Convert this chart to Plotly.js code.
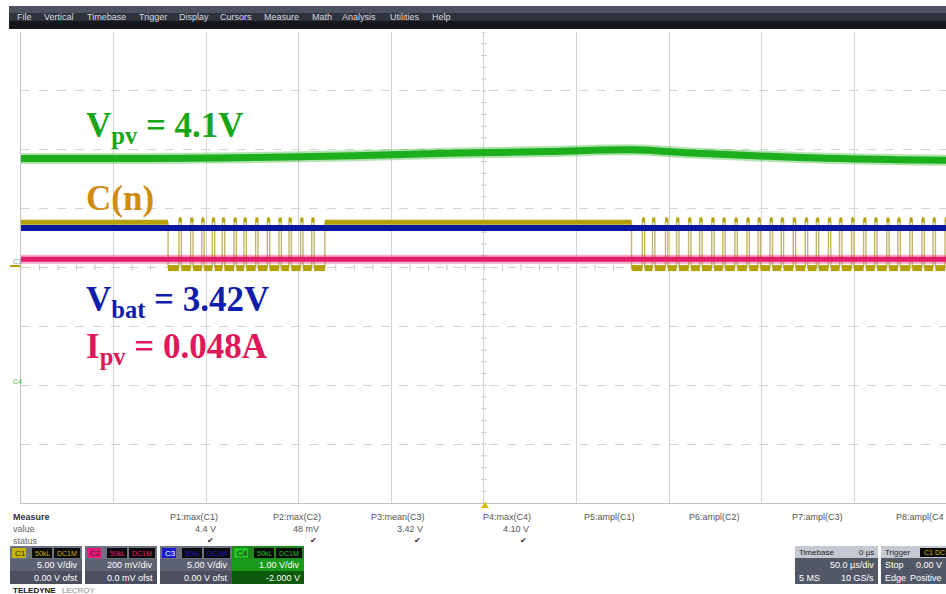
<!DOCTYPE html>
<html><head><meta charset="utf-8">
<script src="https://cdn.plot.ly/plotly-3.0.1.min.js"></script>
<style>html,body{margin:0;padding:0;background:#fff;}#chart{width:946px;height:594px;}</style>
</head><body><div id="chart"></div>
<script>
// ===== waveform data (time in µs, level in screen divisions from centre) =====
const vpvTime   = [-250, -180, -125, -70, -20, 35, 80, 115, 170, 249.5];
const vpvLevel  = [1.85, 1.85, 1.87, 1.90, 1.94, 1.97, 2.00, 1.94, 1.87, 1.82];
const vbatTime  = [-250, 249.5];
const vbatLevel = [0.67, 0.67];
const ipvTime   = [-250, 249.5];
const ipvLevel  = [0.14, 0.14];
const cnLow  = -0.01;
const cnHigh = 0.77;
const cnBurstStart = [-170.6, 79.7];
const cnBurstEnd   = [-85.9, 249.5];
const cnPulses1 = [-164.7, -158.4, -152.4, -146.7, -141.3, -135, -129.6, -123.3, -117, -110.7, -105.3, -99, -93];
const cnPulses2 = [85.5, 91, 98, 104, 110.5, 116.5, 123, 129, 135.5, 142, 148, 154.5, 160.5, 167, 173.5, 179.5, 186, 192, 198.5, 205, 211, 217.5, 223.5, 230, 236.5, 242.5, 249];
const cnPulseWidth = 1.3;

// ===== labels =====
const labelVpv  = 'V<sub>pv</sub> = 4.1V';
const labelCn   = 'C(n)';
const labelVbat = 'V<sub>bat</sub> = 3.42V';
const labelIpv  = 'I<sub>pv</sub> = 0.048A';
const menuItems = ['File','Vertical','Timebase','Trigger','Display','Cursors','Measure','Math','Analysis','Utilities','Help'];
const measureNames  = ['P1:max(C1)','P2:max(C2)','P3:mean(C3)','P4:max(C4)','P5:ampl(C1)','P6:ampl(C2)','P7:ampl(C3)','P8:ampl(C4'];
const measureValues = ['4.4 V','48 mV','3.42 V','4.10 V','','','',''];
const measureStatus = ['✔','✔','✔','✔','','','',''];
const chanNames  = ['C1','C2','C3','C4'];
const chanScale  = ['5.00 V/div','200 mV/div','5.00 V/div','1.00 V/div'];
const chanOffset = ['0.00 V ofst','0.0 mV ofst','0.00 V ofst','-2.000 V'];
const timebaseRows = [['Timebase','0 µs'],['','50.0 µs/div'],['5 MS','10 GS/s']];
const triggerRows  = [['Trigger','C1 DC'],['Stop','0.00 V'],['Edge','Positive']];

// ===== layout helpers (pixel -> paper) =====
const L = 21, R = 946, T = 32, B = 503;
const px = x => (x - L) / (R - L);
const py = y => (B - y) / (B - T);

// ===== build C(n) digital waveform pieces =====
const bursts = [cnPulses1, cnPulses2];
const hiX = [], hiY = [], loX = [], loY = [], edX = [], edY = [];
hiX.push(-250, cnBurstStart[0], null, cnBurstEnd[0], cnBurstStart[1], null);
hiY.push(cnHigh, cnHigh, null, cnHigh, cnHigh, null);
bursts.forEach((pulses, b) => {
  let t0 = cnBurstStart[b];
  edX.push(t0, t0, null); edY.push(cnHigh, cnLow, null);
  pulses.forEach(p => {
    loX.push(t0, p, null); loY.push(cnLow, cnLow, null);
    hiX.push(p, p + cnPulseWidth, null); hiY.push(cnHigh + 0.04, cnHigh + 0.04, null);
    edX.push(p, p, null, p + cnPulseWidth, p + cnPulseWidth, null);
    edY.push(cnLow, cnHigh + 0.06, null, cnHigh + 0.06, cnLow, null);
    t0 = p + cnPulseWidth;
  });
  const te = cnBurstEnd[b];
  if (te > t0) { loX.push(t0, te, null); loY.push(cnLow, cnLow, null); }
  if (b === 0) { edX.push(te, te, null); edY.push(cnLow, cnHigh, null); }
});

const C_GREEN = '#1cae1c', C_YEL = '#b4a000', C_BLUE = '#0a18a0', C_PINK = '#e41e6c';

const traces = [
  {x: edX, y: edY, mode: 'lines', line: {color: '#c2b66a', width: 1.4}, hoverinfo: 'skip'},
  {x: loX, y: loY, mode: 'lines', line: {color: C_YEL, width: 6}, hoverinfo: 'skip'},
  {x: hiX, y: hiY, mode: 'lines', line: {color: C_YEL, width: 5}, hoverinfo: 'skip'},
  {x: vbatTime, y: vbatLevel, mode: 'lines', line: {color: C_BLUE, width: 6}, hoverinfo: 'skip'},
  {x: ipvTime, y: ipvLevel, mode: 'lines', line: {color: C_PINK, width: 9}, opacity: 0.35, hoverinfo: 'skip'},
  {x: ipvTime, y: ipvLevel, mode: 'lines', line: {color: C_PINK, width: 5}, hoverinfo: 'skip'},
  {x: vpvTime, y: vpvLevel, mode: 'lines', line: {color: C_GREEN, width: 11, shape: 'spline'}, opacity: 0.35, hoverinfo: 'skip'},
  {x: vpvTime, y: vpvLevel, mode: 'lines', line: {color: C_GREEN, width: 7, shape: 'spline'}, hoverinfo: 'skip'}
];

const shapes = [];
const annotations = [];
const rect = (x0, y0, x1, y1, fill) => shapes.push({type: 'rect', xref: 'paper', yref: 'paper', x0: px(x0), x1: px(x1), y0: py(y1), y1: py(y0), fillcolor: fill, line: {width: 0}, layer: 'above'});
const txt = (s, x, y, anchor, size, color, weight) => annotations.push({text: s, xref: 'paper', yref: 'paper', x: px(x), y: py(y), xanchor: anchor, yanchor: 'middle', showarrow: false, font: {family: 'Liberation Sans, Arial, sans-serif', size: size, color: color, weight: weight || 'normal'}});
const big = (s, x, y, color) => annotations.push({text: s, xref: 'paper', yref: 'paper', x: px(x), y: py(y), xanchor: 'left', yanchor: 'middle', showarrow: false, font: {family: 'Liberation Serif, Times New Roman, serif', size: 35, color: color, weight: 'bold'}});

// centre-line minor ticks (graticule)
for (let k = -20; k <= 20; k++) {
  const v = k * 0.2;
  shapes.push({type: 'line', xref: 'x', yref: 'y', x0: -1.5, x1: 1.5, y0: v, y1: v, line: {color: '#c4c4c4', width: 1}, layer: 'below'});
}
for (let k = -25; k <= 25; k++) {
  const t = k * 10;
  shapes.push({type: 'line', xref: 'x', yref: 'y', x0: t, x1: t, y0: -0.05, y1: 0.05, line: {color: '#c4c4c4', width: 1}, layer: 'below'});
}

// menu bar
rect(9, 6, 946, 13, '#4c5260');
rect(9, 13, 946, 21, '#2e323a');
rect(9, 21, 946, 29, '#15171b');
const menuX = [15, 42, 85, 137, 177, 218, 262, 310, 340, 388, 430];
menuItems.forEach((m, i) => txt(m, menuX[i], 17, 'left', 9, '#d8dbe0'));

// big labels
big(labelVpv, 84, 128, '#17a617');
big(labelCn, 84, 198, '#d08c10');
big(labelVbat, 84, 301, '#0f1eaa');
big(labelIpv, 84, 348, '#e0185a');

// left channel markers
txt('C1', 11, 261, 'left', 7, '#8a8a8a');
rect(10, 265, 20, 267, C_YEL);
txt('C4', 11, 381, 'left', 7, '#3cb43c');

// trigger position marker
shapes.push({type: 'path', xref: 'paper', yref: 'paper', path: `M ${px(481)} ${py(508)} L ${px(489)} ${py(508)} L ${px(485)} ${py(502)} Z`, fillcolor: '#d8c000', line: {width: 0}, layer: 'above'});

// measure table
txt('Measure', 11, 517, 'left', 9, '#333', 'bold');
txt('value', 11, 529, 'left', 9, '#666');
txt('status', 11, 541, 'left', 9, '#666');
const measRight = [220, 323, 427, 533, 637, 742, 845, 946];
measureNames.forEach((n, i) => {
  txt(n, measRight[i], 517, 'right', 9, '#555');
  if (measureValues[i]) txt(measureValues[i], measRight[i] - 2, 529, 'right', 9, '#555');
  if (measureStatus[i]) txt(measureStatus[i], measRight[i] - 4, 540, 'right', 8, '#333');
});

// channel boxes
const chanColors = ['#c8b400', '#e8177a', '#1a1ad0', '#22c022'];
const chanX = [10, 85, 160, 232];
chanNames.forEach((c, i) => {
  const x0 = chanX[i], x1 = x0 + 72;
  const green = i === 3;
  rect(x0, 546, x1, 559, green ? '#1e8a1e' : '#6d7282');
  rect(x0, 559, x1, 571, green ? '#1a9a1a' : '#5d6272');
  rect(x0, 571, x1, 584, green ? '#0c5a0c' : '#4b4f5e');
  rect(x0 + 2, 548, x0 + 16, 558, chanColors[i]);
  txt(c, x0 + 3, 553, 'left', 8, i === 2 ? '#ffffff' : '#222');
  rect(x0 + 22, 548, x0 + 42, 558, '#0a0a0a');
  rect(x0 + 44, 548, x0 + 70, 558, '#0a0a0a');
  txt('50kL', x0 + 32, 553, 'center', 7, chanColors[i]);
  txt('DC1M', x0 + 57, 553, 'center', 7, chanColors[i]);
  txt(chanScale[i], x1 - 2, 565, 'right', 9, '#ffffff');
  txt(chanOffset[i], x1 - 2, 578, 'right', 9, '#ffffff');
});
txt('TELEDYNE', 11, 590, 'left', 8, '#111', 'bold');
txt('LECROY', 60, 590, 'left', 8, '#888');

// timebase & trigger boxes
rect(795, 546, 878, 558, '#c4c8d0');
rect(795, 558, 878, 584, '#535866');
rect(881, 546, 946, 558, '#c4c8d0');
rect(881, 558, 946, 584, '#535866');
txt(timebaseRows[0][0], 797, 552, 'left', 8, '#222');
txt(timebaseRows[0][1], 876, 552, 'right', 8, '#222');
txt(timebaseRows[1][1], 876, 565, 'right', 9, '#fff');
txt(timebaseRows[2][0], 797, 578, 'left', 9, '#fff');
txt(timebaseRows[2][1], 876, 578, 'right', 9, '#fff');
txt(triggerRows[0][0], 883, 552, 'left', 8, '#222');
rect(920, 548, 946, 557, '#0a0a0a');
txt(triggerRows[0][1], 922, 552, 'left', 7, '#d8c000');
txt(triggerRows[1][0], 883, 565, 'left', 9, '#fff');
txt(triggerRows[1][1], 944, 565, 'right', 9, '#fff');
txt(triggerRows[2][0], 883, 578, 'left', 9, '#fff');
txt(triggerRows[2][1], 944, 578, 'right', 9, '#fff');

const layout = {
  width: 946, height: 594,
  margin: {l: L, r: 946 - R, t: T, b: 594 - B, pad: 0},
  paper_bgcolor: '#ffffff', plot_bgcolor: '#ffffff',
  showlegend: false,
  xaxis: {range: [-250, 249.5], dtick: 50, tick0: 0, showgrid: true, gridcolor: '#d4d4d4', gridwidth: 1,
          zeroline: false, showticklabels: false, ticks: '', showline: true, linecolor: '#c4c4c4', fixedrange: true},
  yaxis: {range: [-4, 4], dtick: 1, tick0: 0, showgrid: true, gridcolor: '#d4d4d4', gridwidth: 1, griddash: 'dash',
          zeroline: false, showticklabels: false, ticks: '', showline: true, linecolor: '#c4c4c4', fixedrange: true},
  shapes: shapes,
  annotations: annotations
};
Plotly.newPlot('chart', traces, layout, {displayModeBar: false, staticPlot: true});
</script></body></html>
